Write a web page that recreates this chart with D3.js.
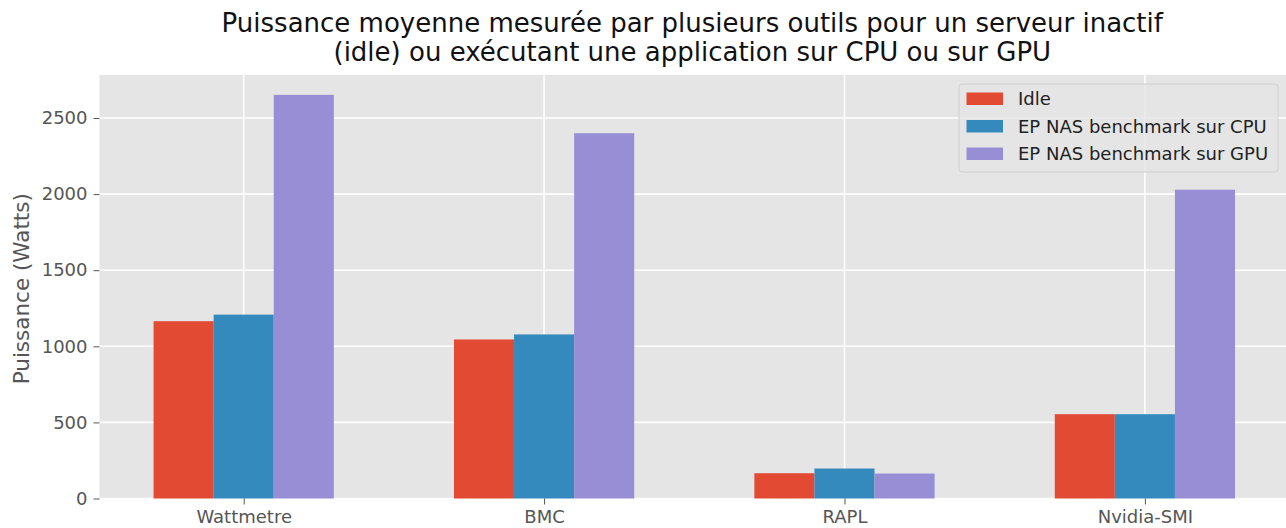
<!DOCTYPE html>
<html>
<head>
<meta charset="utf-8">
<script src="https://cdn.jsdelivr.net/npm/d3@7"></script>
<style>
  html, body { margin: 0; padding: 0; background: #fff; }
  svg { display: block; font-family: "DejaVu Sans", sans-serif; }
</style>
</head>
<body>
<svg id="chart" width="1286" height="528"></svg>
<script>
const categories = ["Wattmetre", "BMC", "RAPL", "Nvidia-SMI"];
const seriesNames = ["Idle", "EP NAS benchmark sur CPU", "EP NAS benchmark sur GPU"];
const idleValues = [1165, 1045, 166, 554];
const cpuValues = [1208, 1078, 197, 554];
const gpuValues = [2652, 2400, 164, 2029];
const yTicks = [0, 500, 1000, 1500, 2000, 2500];
const colors = ["#E24A33", "#348ABD", "#988ED5"];

const series = [idleValues, cpuValues, gpuValues];

const svg = d3.select("#chart");
const plot = { left: 99.5, right: 99.5 + 3.96 * 300.4, top: 75, bottom: 498.5 };

const x = d3.scaleLinear().domain([-0.48, 3.48]).range([plot.left, plot.right]);
const y = d3.scaleLinear().domain([0, 2782.5]).range([plot.bottom, plot.top]);

// background
svg.append("rect")
  .attr("x", plot.left).attr("y", plot.top)
  .attr("width", plot.right - plot.left).attr("height", plot.bottom - plot.top)
  .attr("fill", "#E5E5E5");

// grid
const gGrid = svg.append("g");
gGrid.selectAll("line.h").data(yTicks).join("line")
  .attr("x1", plot.left).attr("x2", plot.right)
  .attr("y1", d => y(d)).attr("y2", d => y(d))
  .attr("stroke", "#fff").attr("stroke-width", 1.6);
gGrid.selectAll("line.v").data(categories).join("line")
  .attr("x1", (d, i) => x(i)).attr("x2", (d, i) => x(i))
  .attr("y1", plot.top).attr("y2", plot.bottom)
  .attr("stroke", "#fff").attr("stroke-width", 1.6);

// bars
const barW = 0.2;
series.forEach((vals, j) => {
  svg.append("g").selectAll("rect").data(vals).join("rect")
    .attr("x", (d, i) => x(i + (j - 1) * barW - barW / 2))
    .attr("width", x(barW) - x(0))
    .attr("y", d => y(d))
    .attr("height", d => y(0) - y(d))
    .attr("fill", colors[j]);
});

// y axis
const yAxis = d3.axisLeft(y).tickValues(yTicks).tickSize(6).tickPadding(6).tickFormat(d3.format("d"));
const gy = svg.append("g").attr("transform", `translate(${plot.left},0)`).call(yAxis);
gy.select(".domain").remove();
gy.selectAll(".tick line").attr("stroke", "#555").attr("stroke-width", 1);
gy.selectAll(".tick text").attr("fill", "#555").style("font-size", "18px")
  .style("font-family", "DejaVu Sans, sans-serif");

// x axis
const xAxis = d3.axisBottom(x).tickValues(d3.range(categories.length)).tickSize(6).tickPadding(6)
  .tickFormat(i => categories[i]);
const gx = svg.append("g").attr("transform", `translate(0,${plot.bottom})`).call(xAxis);
gx.select(".domain").remove();
gx.selectAll(".tick line").attr("stroke", "#555").attr("stroke-width", 1);
gx.selectAll(".tick text").attr("fill", "#555").style("font-size", "18px")
  .style("font-family", "DejaVu Sans, sans-serif");

// y label
svg.append("text")
  .attr("transform", `translate(29,${(plot.top + plot.bottom) / 2 + 2}) rotate(-90)`)
  .attr("text-anchor", "middle")
  .attr("fill", "#555")
  .style("font-size", "21.5px")
  .text("Puissance (Watts)");

// title
const title = svg.append("text").attr("text-anchor", "middle").attr("fill", "#111")
  .style("font-size", "26px");
const tcx = (plot.left + plot.right) / 2 - 2;
title.append("tspan").attr("x", tcx).attr("y", 32)
  .text("Puissance moyenne mesurée par plusieurs outils pour un serveur inactif");
title.append("tspan").attr("x", tcx).attr("y", 61)
  .text("(idle) ou exécutant une application sur CPU ou sur GPU");

// legend
const lg = svg.append("g").attr("transform", "translate(959,84)");
lg.append("rect").attr("width", 319).attr("height", 88).attr("rx", 3)
  .attr("fill", "#E5E5E5").attr("fill-opacity", 0.8)
  .attr("stroke", "#d0d0d0").attr("stroke-width", 1);
seriesNames.forEach((name, j) => {
  const cy = 15 + j * 27.5;
  lg.append("rect").attr("x", 7.5).attr("y", cy - 6.5).attr("width", 36.5).attr("height", 12.5)
    .attr("fill", colors[j]);
  lg.append("text").attr("x", 59).attr("y", cy).attr("dy", "0.36em")
    .attr("fill", "#222").style("font-size", "18px").text(name);
});
</script>
</body>
</html>
